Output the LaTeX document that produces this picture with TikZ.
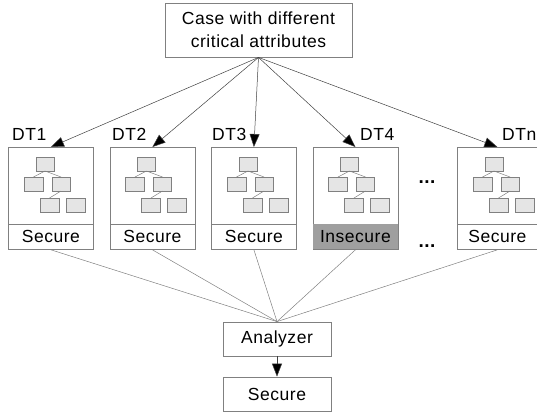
\documentclass[tikz,border=0pt]{standalone}
\usepackage{fontspec}
\setmainfont{Liberation Sans}[LetterSpace=3]
\usepackage{tikz}
\usetikzlibrary{arrows.meta,calc}

\tikzset{
  box/.style={draw=gray, line width=0.8pt, fill=white, inner sep=0pt},
  txt/.style={font=\fontsize{17.5}{20}\selectfont},
  statbox/.style={box, txt, minimum height=25pt},
  leaf/.style={draw=gray, line width=0.6pt, fill=gray!20},
  link/.style={draw=gray, line width=0.5pt},
  feed/.style={draw=black!75, line width=0.5pt, -{Triangle[length=13pt,width=10pt,fill=black]}},
  lbl/.style={txt, inner sep=0pt, anchor=base west},
  dots/.style={font=\fontsize{19}{20}\selectfont\bfseries},
  pics/tree/.style={code={
    \draw[leaf] (28,10) rectangle (46,24);
    \draw[leaf] (16,30) rectangle (35,44);
    \draw[leaf] (44,30) rectangle (62,44);
    \draw[leaf] (32,51) rectangle (51,65);
    \draw[leaf] (58,51) rectangle (77,65);
    \draw[link] (37,24) -- (25.5,30);
    \draw[link] (37,24) -- (53,30);
    \draw[link] (53,44) -- (41.5,51);
  }}
}

\begin{document}
\begin{tikzpicture}[x=1pt,y=-1pt]
			\useasboundingbox (0,0) rectangle (537,413);
			% input case
			\node[box, minimum width=187pt, minimum height=54pt, align=center,
			      font=\fontsize{17.5}{23}\selectfont] (case) at (258.5,30)
			      {Case with different\\critical attributes};
			% decision trees
			\foreach \i/\x/\w/\res in {1/8/85/Secure, 2/109.5/85/Secure, 3/211/85/Secure, 4/312.5/85/Insecure, 5/457/80/Secure} {
				\node[box, minimum width=\w pt, minimum height=77pt, anchor=north west] (dt\i) at (\x,147) {};
				\pic at (\x,147) {tree};
				\node[statbox, minimum width=\w pt, anchor=north west] (st\i) at (\x,224) {\res};
				\draw[feed] (case.south) -- (dt\i.north);
			}
			\fill[gray!75] ($(st4.north west)+(0.4,0.4)$) rectangle ($(st4.south east)+(-0.4,-0.4)$);
			\node[txt] at (st4) {Insecure};
			\node[lbl] (l1) at (12,140) {DT1};
			\node[lbl] (l2) at (112,140) {DT2};
			\node[lbl] (l3) at (212,140) {DT3};
			\node[lbl] (l4) at (360,140) {DT4};
			\node[lbl] (l5) at (502,140) {DTn};
			\node[dots] (dots1) at (427,182) {...};
			\node[dots] (dots2) at (427,246) {...};
			% analysis
			\node[box, txt, minimum width=108pt, minimum height=34pt] (analyzer) at (277,339) {Analyzer};
			\node[box, txt, minimum width=108pt, minimum height=34pt] (result) at (277,394) {Secure};
			\foreach \i in {1,...,5}
				\draw[link] (st\i.south) -- (analyzer.north);
			\draw[feed] (analyzer) -- (result);
		\end{tikzpicture}
\end{document}
